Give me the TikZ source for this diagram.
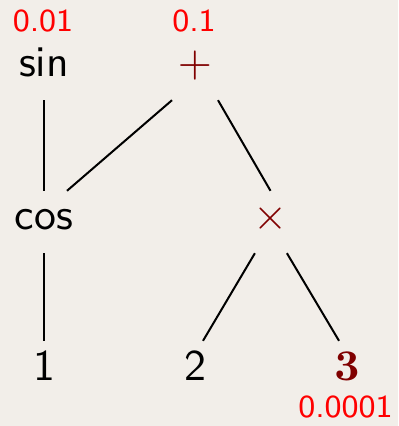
\documentclass[tikz,border=0pt]{standalone}
\usepackage{xcolor}
\usepackage{tikz}
\usetikzlibrary{positioning}

\definecolor{slidebg}{HTML}{F2EEE9}
\definecolor{opred}{rgb}{0.5,0,0}

\begin{document}
\begin{tikzpicture}[x=0.25pt, y=-0.25pt,
  term/.style={anchor=base, inner sep=0pt, text height=9.6pt, text depth=5.6pt,
    font=\fontsize{10.95}{13}\selectfont\sffamily},
  weight/.style={anchor=base, inner sep=0pt, text=red,
    font=\fontsize{8}{9.5}\selectfont\sffamily},
  branch/.style={line width=0.5pt}]

% Slide background
\fill[slidebg] (0,0) rectangle (398,426);

% Top row
\node[term] (sin) at (44,77) {sin};
\node[term, text=opred] (plus) at (195,77) {$+$};

% Middle row
\node[term] (cos) at (44,230) {cos};
\node[term, text=opred] (times) at (270.5,230) {$\times$};

% Leaves
\node[term] (one) at (44,380) {1};
\node[term] (two) at (195,380) {2};
\node[term, text=opred] (three) at (347,380) {$\mathbf{3}$};

% Weights
\node[weight] (wsin) at (43,32) {0.01};
\node[weight] (wplus) at (194,32) {0.1};
\node[weight] (wthree) at (345.5,417) {0.0001};

% Edges
\draw[branch] (sin.south) -- (cos.north);
\draw[branch] (cos.south) -- (one.north);
\draw[branch] ([xshift=-5.75pt]plus.south) -- ([xshift=5.75pt]cos.north);
\draw[branch] ([xshift=5.75pt]plus.south) -- (times.north);
\draw[branch] ([xshift=-3.9pt]times.south) -- ([xshift=2pt]two.north);
\draw[branch] ([xshift=4.1pt]times.south) -- ([xshift=-2pt]three.north);

\end{tikzpicture}
\end{document}
